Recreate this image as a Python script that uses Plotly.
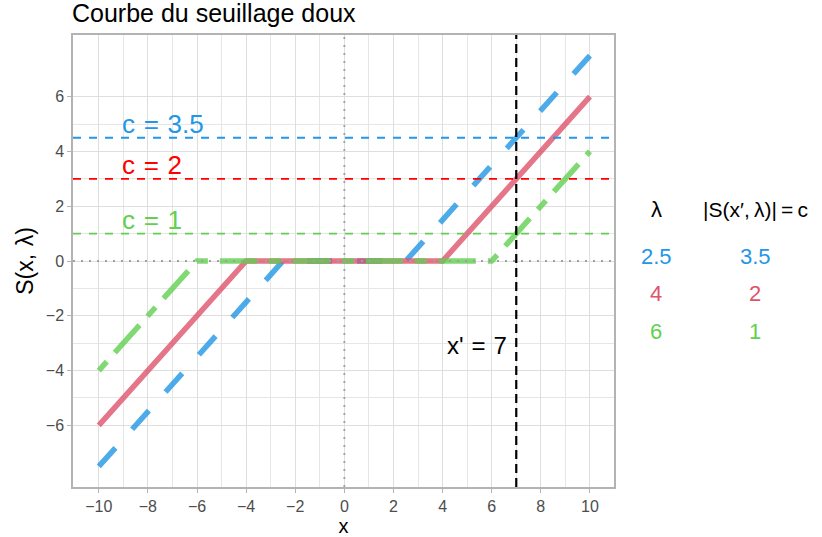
import plotly.graph_objects as go

# Soft-thresholding curves: breakpoints
lambdas = [2.5, 4, 6]
curve_x_blue = [-10, -2.5, 2.5, 10]
curve_y_blue = [-7.5, 0, 0, 7.5]
curve_x_red = [-10, -4, 4, 10]
curve_y_red = [-6, 0, 0, 6]
curve_x_green = [-10, -6, 6, 10]
curve_y_green = [-4, 0, 0, 4]

# Horizontal reference levels S(x', lambda) and their labels
h_levels = [4.5, 3, 1]
c_labels = ["c\u2004=\u20043.5", "c\u2004=\u20042", "c\u2004=\u20041"]
c_values = ["3.5", "2", "1"]
x_prime = 7

x_ticks = [-10, -8, -6, -4, -2, 0, 2, 4, 6, 8, 10]
x_minor = [-9, -7, -5, -3, -1, 1, 3, 5, 7, 9]
y_ticks = [-6, -4, -2, 0, 2, 4, 6]
y_minor = [-5, -3, -1, 1, 3, 5]

BLUE = "#2297E6"
RED = "#DF536B"
GREEN = "#61D04F"
FONT = "Liberation Sans, Arial, sans-serif"

fig = go.Figure()

curves = [
    (curve_x_blue, curve_y_blue, BLUE, "25px,25px"),
    (curve_x_red, curve_y_red, RED, "solid"),
    (curve_x_green, curve_y_green, GREEN, "12px,12px,37px,12px"),
]
for cx, cy, col, dash in curves:
    fig.add_trace(go.Scatter(x=cx, y=cy, mode="lines", opacity=0.8,
                             line=dict(color=col, width=5.5, dash=dash),
                             showlegend=False, hoverinfo="skip"))

# horizontal dashed levels
h_colors = [BLUE, "#FF0000", GREEN]
for lvl, col in zip(h_levels, h_colors):
    fig.add_trace(go.Scatter(x=[-11.05, 11], y=[lvl, lvl], mode="lines",
                             line=dict(color=col, width=1.8, dash="8px,8px"),
                             showlegend=False, hoverinfo="skip"))

# dotted axes at 0
fig.add_trace(go.Scatter(x=[-11.05, 11], y=[0, 0], mode="lines",
                         line=dict(color="#A0A0A0", width=1.8, dash="2px,6px"),
                         showlegend=False, hoverinfo="skip"))
fig.add_trace(go.Scatter(x=[0, 0], y=[-8.25, 8.25], mode="lines",
                         line=dict(color="#A0A0A0", width=1.8, dash="2px,6px"),
                         showlegend=False, hoverinfo="skip"))
# vertical x' line
fig.add_trace(go.Scatter(x=[x_prime, x_prime], y=[-8.25, 8.25], mode="lines",
                         line=dict(color="black", width=2.2, dash="9px,5px"),
                         showlegend=False, hoverinfo="skip"))

annotations = []
for lvl, lab, col in zip(h_levels, c_labels, h_colors):
    annotations.append(dict(x=-9.12, y=lvl + 0.5, xref="x", yref="y", text=lab,
                            showarrow=False, xanchor="left", yanchor="middle",
                            font=dict(family=FONT, size=26, color=col)))
annotations.append(dict(x=6.72, y=-3.1, xref="x", yref="y", text="x'\u2004=\u20047",
                        showarrow=False, xanchor="right", yanchor="middle",
                        font=dict(family=FONT, size=24, color="black")))

# table on the right
annotations.append(dict(x=1.078, y=0.613, xref="paper", yref="paper", text="λ",
                        showarrow=False, xanchor="center", yanchor="middle",
                        font=dict(family=FONT, size=22, color="black")))
annotations.append(dict(x=1.261, y=0.613, xref="paper", yref="paper",
                        text="|S(x′,\u2009λ)|\u2009=\u2009c",
                        showarrow=False, xanchor="center", yanchor="middle",
                        font=dict(family=FONT, size=21, color="black")))
row_y = [0.511, 0.429, 0.345]
t_colors = [BLUE, RED, GREEN]
for lam, cv, ry, col in zip(lambdas, c_values, row_y, t_colors):
    annotations.append(dict(x=1.078, y=ry, xref="paper", yref="paper", text=str(lam),
                            showarrow=False, xanchor="center", yanchor="middle",
                            font=dict(family=FONT, size=22, color=col)))
    annotations.append(dict(x=1.261, y=ry, xref="paper", yref="paper", text=cv,
                            showarrow=False, xanchor="center", yanchor="middle",
                            font=dict(family=FONT, size=22, color=col)))

axis_common = dict(
    showline=True, mirror=True, linecolor="#B3B3B3", linewidth=1.5,
    ticks="outside", ticklen=4, tickcolor="#B3B3B3", tickwidth=1,
    gridcolor="#DEDEDE", gridwidth=1.1, zeroline=False, automargin=False,
    tickfont=dict(family=FONT, size=16, color="#4D4D4D"),
)

fig.update_layout(
    width=822, height=537,
    margin=dict(l=73, r=208, t=35, b=50, autoexpand=False),
    paper_bgcolor="white", plot_bgcolor="white",
    title=dict(text="Courbe du seuillage doux", x=72 / 822, xanchor="left",
               xref="container", y=1 - 13 / 537, yanchor="middle", yref="container",
               font=dict(family=FONT, size=25, color="black")),
    xaxis=dict(range=[-11.05, 10.98], tickvals=x_ticks,
               ticktext=[str(v).replace("-", "−") for v in x_ticks],
               minor=dict(tickvals=x_minor, showgrid=True, gridcolor="#E6E6E6",
                          gridwidth=0.8, ticks=""),
               title=dict(text="x", standoff=4,
                          font=dict(family=FONT, size=20, color="black")),
               **axis_common),
    yaxis=dict(range=[-8.25, 8.25], tickvals=y_ticks,
               ticktext=[str(v).replace("-", "−") for v in y_ticks],
               minor=dict(tickvals=y_minor, showgrid=True, gridcolor="#E6E6E6",
                          gridwidth=0.8, ticks=""),
               title=dict(text="S(x,\u2004λ)", standoff=6,
                          font=dict(family=FONT, size=23, color="black")),
               **axis_common),
    annotations=annotations,
)

# remove the browser's default 8px body margin so the figure fills the window
fig.write_html("out.html", config={"displayModeBar": False},
               post_script="document.body.style.margin='0';")
